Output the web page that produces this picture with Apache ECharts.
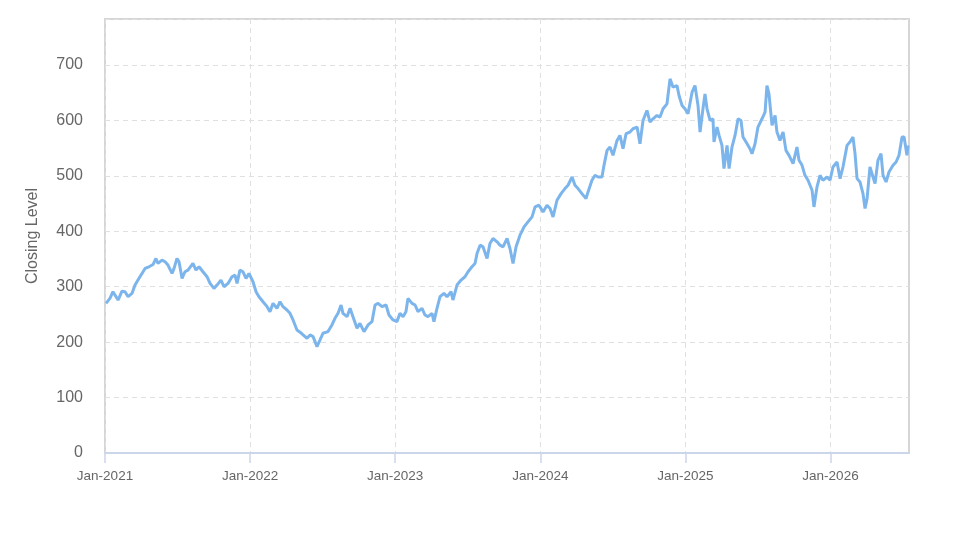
<!DOCTYPE html>
<html>
<head>
<meta charset="utf-8">
<script src="https://cdn.jsdelivr.net/npm/echarts@6/dist/echarts.min.js"></script>
<style>
  html, body { margin: 0; padding: 0; background: #fff; }
  #lineChart { width: 974px; height: 547px; }
</style>
</head>
<body>
<div id="lineChart"></div>
<script>
// dates as fractional years
const years = [
  2021.007, 2021.034, 2021.055, 2021.076, 2021.090, 2021.117, 2021.138, 2021.159, 2021.186, 2021.207,
  2021.227, 2021.255, 2021.276, 2021.303, 2021.331, 2021.351, 2021.365, 2021.393, 2021.414, 2021.434,
  2021.462, 2021.476, 2021.496, 2021.510, 2021.531, 2021.551, 2021.572, 2021.606, 2021.627, 2021.648,
  2021.675, 2021.703, 2021.724, 2021.751, 2021.772, 2021.799, 2021.820, 2021.848, 2021.875, 2021.896,
  2021.910, 2021.930, 2021.951, 2021.972, 2021.992, 2022.020, 2022.041, 2022.061, 2022.089, 2022.117,
  2022.137, 2022.158, 2022.185, 2022.206, 2022.227, 2022.254, 2022.275, 2022.296, 2022.323, 2022.344,
  2022.365, 2022.392, 2022.413, 2022.434, 2022.461, 2022.482, 2022.502, 2022.537, 2022.564, 2022.585,
  2022.606, 2022.627, 2022.640, 2022.668, 2022.689, 2022.709, 2022.737, 2022.757, 2022.785, 2022.813,
  2022.840, 2022.861, 2022.882, 2022.909, 2022.937, 2022.957, 2022.985, 2023.012, 2023.033, 2023.054,
  2023.074, 2023.088, 2023.116, 2023.137, 2023.157, 2023.185, 2023.205, 2023.226, 2023.254, 2023.267,
  2023.288, 2023.309, 2023.336, 2023.357, 2023.385, 2023.398, 2023.426, 2023.454, 2023.481, 2023.502,
  2023.529, 2023.550, 2023.564, 2023.585, 2023.605, 2023.633, 2023.653, 2023.674, 2023.702, 2023.722,
  2023.743, 2023.771, 2023.791, 2023.812, 2023.833, 2023.860, 2023.888, 2023.915, 2023.943, 2023.964,
  2023.991, 2024.019, 2024.046, 2024.067, 2024.088, 2024.115, 2024.143, 2024.170, 2024.191, 2024.219,
  2024.239, 2024.260, 2024.287, 2024.315, 2024.329, 2024.356, 2024.377, 2024.398, 2024.425, 2024.439,
  2024.460, 2024.480, 2024.501, 2024.529, 2024.549, 2024.570, 2024.591, 2024.618, 2024.639, 2024.667,
  2024.687, 2024.708, 2024.735, 2024.756, 2024.777, 2024.804, 2024.825, 2024.846, 2024.873, 2024.894,
  2024.915, 2024.942, 2024.956, 2024.977, 2024.997, 2025.018, 2025.046, 2025.066, 2025.087, 2025.101,
  2025.121, 2025.135, 2025.149, 2025.170, 2025.190, 2025.197, 2025.218, 2025.232, 2025.252, 2025.266,
  2025.287, 2025.301, 2025.321, 2025.342, 2025.363, 2025.383, 2025.397, 2025.425, 2025.445, 2025.459,
  2025.480, 2025.500, 2025.528, 2025.549, 2025.562, 2025.576, 2025.597, 2025.618, 2025.631, 2025.652,
  2025.673, 2025.693, 2025.714, 2025.742, 2025.769, 2025.783, 2025.804, 2025.824, 2025.845, 2025.873,
  2025.886, 2025.907, 2025.928, 2025.948, 2025.976, 2025.997, 2026.017, 2026.045, 2026.066, 2026.086,
  2026.114, 2026.134, 2026.155, 2026.169, 2026.183, 2026.203, 2026.224, 2026.238, 2026.252, 2026.272,
  2026.293, 2026.307, 2026.327, 2026.348, 2026.362, 2026.383, 2026.403, 2026.431, 2026.452, 2026.472,
  2026.493, 2026.507, 2026.527, 2026.534
];

const closing = [
  270, 279, 291, 282, 276, 292, 291, 282, 288, 303,
  312, 324, 333, 336, 340, 351, 342, 348, 345, 339,
  324, 333, 351, 345, 315, 327, 330, 342, 330, 336,
  327, 318, 306, 297, 303, 312, 300, 306, 318, 321,
  306, 330, 327, 315, 324, 309, 291, 282, 273, 264,
  255, 270, 261, 273, 264, 258, 252, 240, 222, 218,
  213, 207, 213, 210, 192, 204, 216, 219, 231, 243,
  252, 267, 252, 246, 261, 246, 225, 234, 219, 231,
  237, 267, 270, 264, 267, 249, 240, 237, 252, 246,
  255, 279, 270, 267, 255, 261, 249, 246, 252, 237,
  261, 282, 288, 282, 291, 276, 303, 312, 318, 327,
  336, 342, 360, 375, 372, 351, 378, 387, 381, 375,
  372, 387, 369, 342, 372, 393, 408, 417, 426, 444,
  447, 435, 447, 441, 426, 456, 468, 477, 483, 498,
  483, 477, 468, 459, 471, 492, 501, 498, 498, 519,
  546, 552, 537, 564, 573, 549, 576, 579, 585, 588,
  558, 600, 618, 597, 603, 609, 606, 621, 630, 675,
  660, 663, 645, 627, 621, 612, 651, 663, 627, 579,
  621, 648, 621, 600, 603, 561, 588, 573, 555, 513,
  555, 513, 552, 573, 603, 600, 570, 558, 549, 540,
  558, 588, 603, 615, 663, 648, 591, 609, 579, 564,
  579, 546, 537, 522, 552, 528, 519, 501, 492, 474,
  444, 480, 501, 492, 498, 492, 516, 525, 495, 516,
  555, 561, 570, 540, 495, 489, 468, 441, 459, 516,
  498, 486, 528, 540, 501, 489, 507, 519, 525, 537,
  570, 570, 537, 555
];

const yearTicks = [2021, 2022, 2023, 2024, 2025, 2026];
const levelTicks = [0, 100, 200, 300, 400, 500, 600, 700];

let myChart = echarts.init(document.getElementById('lineChart'));
const option = {
  animation: false,
  backgroundColor: '#fff',
  textStyle: { fontFamily: 'Liberation Sans, Arial, sans-serif' },
  grid: {
    left: 105, right: 65, top: 19, bottom: 94,
    show: true,
    borderColor: '#d6d6d6',
    borderWidth: 2
  },
  xAxis: {
    type: 'value',
    min: 2021,
    max: 2026.541,
    interval: 1,
    axisLine: { show: true, lineStyle: { color: '#ccd6eb', width: 2 } },
    axisTick: { show: true, length: 10, customValues: yearTicks, lineStyle: { color: '#ccd6eb', width: 1.5 } },
    axisLabel: {
      customValues: yearTicks,
      color: '#666',
      fontSize: 13.5,
      margin: 16,
      formatter: v => 'Jan-' + v
    },
    splitLine: { show: true, lineStyle: { color: '#e0e0e0', type: [5, 4], width: 1 } }
  },
  yAxis: {
    type: 'value',
    min: 0,
    max: 783,
    interval: 100,
    name: 'Closing Level',
    nameLocation: 'middle',
    nameGap: 64,
    nameTextStyle: { color: '#666', fontSize: 16 },
    axisLine: { show: false },
    axisTick: { show: false },
    axisLabel: { customValues: levelTicks, color: '#666', fontSize: 16, margin: 22 },
    splitLine: { show: true, lineStyle: { color: '#e0e0e0', type: [5, 4], width: 1 } }
  },
  series: [{
    type: 'line',
    data: years.map((y, i) => [y, closing[i]]),
    showSymbol: false,
    symbol: 'none',
    lineStyle: { color: '#7cb5ec', width: 3 },
    itemStyle: { color: '#7cb5ec' }
  }]
};
myChart.setOption(option);
</script>
</body>
</html>
